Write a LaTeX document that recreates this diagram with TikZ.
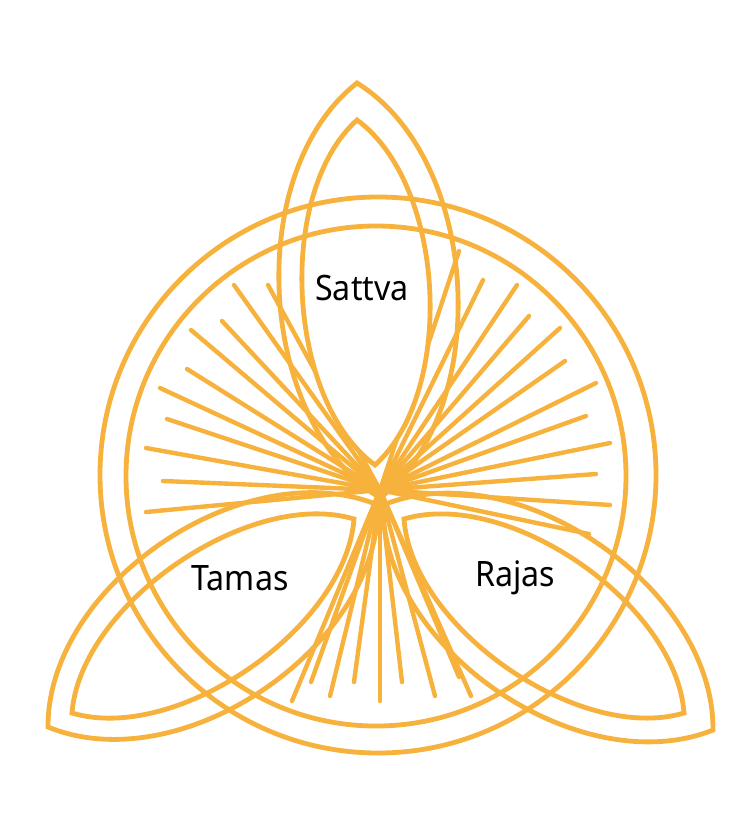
\documentclass[tikz,border=0pt]{standalone}
\usepackage{fontspec}
\setmainfont{Noto Sans}
\usetikzlibrary{calc}
\definecolor{gold}{RGB}{246,178,60}
\newcommand{\lensdraw}[4]{%
  \path[#4] #1 .. controls ($#1!0.2!#2!#3!90:#2$) and ($#1!0.8!#2!#3!90:#2$) .. #2
     .. controls ($#1!0.8!#2!#3!-90:#2$) and ($#1!0.2!#2!#3!-90:#2$) .. #1 -- cycle;}
\begin{document}
\begin{tikzpicture}[x=1pt,y=-1pt,
  band/.style={draw=gold,line width=4.8pt},
  ray/.style={draw=gold,line width=4.4pt,line cap=round},
  lbl/.style={font=\fontsize{35}{40}\selectfont,text=black,inner sep=0pt,xscale=0.92}]
\useasboundingbox (0,0) rectangle (747,814);
\coordinate (c) at (380,490);
% rays
\foreach \p in {(146,512),(163,481),(146,448),(167,419),(160,388),(187,369),(191,330),(222,321),(234,285),(268,285),
  (459,251),(483,280),(517,285),(529,316),(560,328),(565,361),(596,383),(586,416),(610,443),(596,474),(610,505),(589,534),
  (292,701),(311,682),(330,696),(354,682),(380,701),(402,682),(435,696),(459,677),(471,696)}
  \draw[ray] (c) -- \p;
% inner lens fills
\lensdraw{(375,465)}{(357,120)}{85pt}{fill=white}
\lensdraw{(404,519)}{(684,713)}{85pt}{fill=white}
\lensdraw{(354,519)}{(72,713)}{85pt}{fill=white}
% circles
\node[band,circle,minimum size=556pt,inner sep=0pt] (oc) at (378,475) {};
\node[band,circle,minimum size=500pt,inner sep=0pt] (ic) at (376,476) {};
% lens strokes
\lensdraw{(375,465)}{(357,120)}{85pt}{band,line join=miter}
\lensdraw{(404,519)}{(684,713)}{85pt}{band,line join=miter}
\lensdraw{(354,519)}{(72,713)}{85pt}{band,line join=miter}
\lensdraw{(380,498)}{(357,83)}{119pt}{band,line join=miter}
\lensdraw{(383,505)}{(713,730)}{119pt}{band,line join=miter}
\lensdraw{(378,505)}{(48,727)}{119pt}{band,line join=miter}
% labels
\node[lbl] (sattva) at (362,288) {Sattva};
\node[lbl] (tamas) at (240,578) {Tamas};
\node[lbl] (rajas) at (515,578) {Rajas};
\end{tikzpicture}
\end{document}
